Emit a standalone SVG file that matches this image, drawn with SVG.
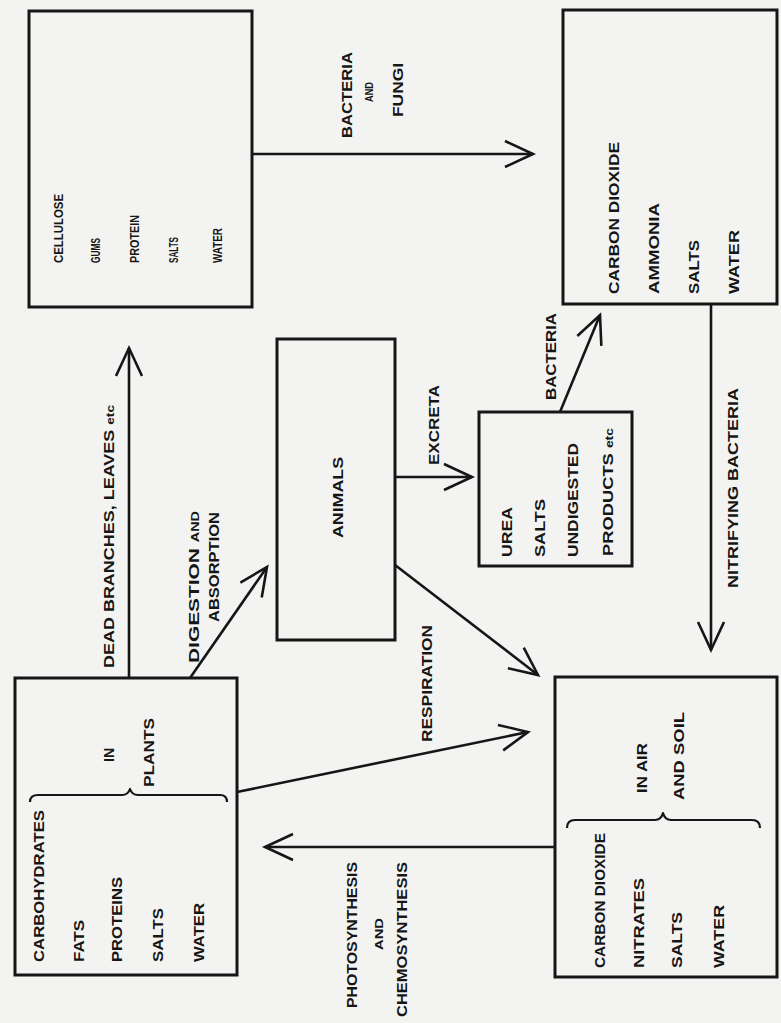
<svg xmlns="http://www.w3.org/2000/svg" width="781" height="1023" viewBox="0 0 781 1023">
<defs>
<style>
.bg{fill:#f3f3f1}
.box{fill:none;stroke:#161616;stroke-width:3}
.ln{fill:none;stroke:#161616;stroke-width:2.6;marker-end:url(#arr)}
.br{fill:none;stroke:#161616;stroke-width:2.2;stroke-linejoin:round}
text{font-family:"Liberation Sans","Arial",sans-serif;font-weight:bold;fill:#161616}
.s13{font-size:13.5px}
.s14{font-size:14.5px}
.s15{font-size:15.5px}
.s10{font-size:10px}
</style>
<marker id="arr" markerUnits="userSpaceOnUse" viewBox="-32 -16 34 32" markerWidth="34" markerHeight="32" refX="0" refY="0" orient="auto" overflow="visible">
<path d="M-28,-13 L0,0 L-28,13" fill="none" stroke="#161616" stroke-width="2.6" stroke-linejoin="miter"/>
</marker>
</defs>
<rect class="bg" x="0" y="0" width="781" height="1023"/>

<g id="connectors">
<path class="ln" d="M252,154 L533,154"/>
<path class="ln" d="M711,304 L711,650"/>
<path class="ln" d="M560,412 L600,315"/>
<path class="ln" d="M395,477 L472,477"/>
<path class="ln" d="M395,565 L538,675"/>
<path class="ln" d="M237,792 L528,732"/>
<path class="ln" d="M555,847 L265,847"/>
<path class="ln" d="M129,678 L129,348"/>
<path class="ln" d="M190,678 L267,567"/>
</g>

<g id="edge-labels">
<text class="s14" transform="translate(352,138) rotate(-90)" textLength="86" lengthAdjust="spacingAndGlyphs">BACTERIA</text>
<text class="s10" transform="translate(373,102) rotate(-90)" textLength="20" lengthAdjust="spacingAndGlyphs">AND</text>
<text class="s14" transform="translate(403,117) rotate(-90)" textLength="54" lengthAdjust="spacingAndGlyphs">FUNGI</text>
<text class="s14" transform="translate(439,465) rotate(-90)" textLength="80" lengthAdjust="spacingAndGlyphs">EXCRETA</text>
<text class="s14" transform="translate(556,400) rotate(-90)" textLength="87" lengthAdjust="spacingAndGlyphs">BACTERIA</text>
<text class="s14" transform="translate(738,588) rotate(-90)" textLength="200" lengthAdjust="spacingAndGlyphs">NITRIFYING  BACTERIA</text>
<text class="s14" transform="translate(114,668) rotate(-90)" textLength="263" lengthAdjust="spacingAndGlyphs">DEAD BRANCHES, LEAVES <tspan font-size="11">etc</tspan></text>
<text class="s14" transform="translate(199,663) rotate(-90)" textLength="152" lengthAdjust="spacingAndGlyphs">DIGESTION <tspan font-size="10">AND</tspan></text>
<text class="s14" transform="translate(219,622) rotate(-90)" textLength="110" lengthAdjust="spacingAndGlyphs">ABSORPTION</text>
<text class="s14" transform="translate(432,742) rotate(-90)" textLength="117" lengthAdjust="spacingAndGlyphs">RESPIRATION</text>
<text class="s14" transform="translate(357,1008) rotate(-90)" textLength="146" lengthAdjust="spacingAndGlyphs">PHOTOSYNTHESIS</text>
<text class="s10" transform="translate(383,950) rotate(-90)" textLength="32" lengthAdjust="spacingAndGlyphs">AND</text>
<text class="s14" transform="translate(407,1017) rotate(-90)" textLength="155" lengthAdjust="spacingAndGlyphs">CHEMOSYNTHESIS</text>
</g>

<g id="node-dead-matter">
<rect class="box" x="29" y="11" width="223" height="296"/>
<text class="s13" transform="translate(63,263) rotate(-90)" textLength="69" lengthAdjust="spacingAndGlyphs">CELLULOSE</text>
<text class="s13" transform="translate(100,263) rotate(-90)" textLength="25" lengthAdjust="spacingAndGlyphs">GUMS</text>
<text class="s13" transform="translate(139,263) rotate(-90)" textLength="48" lengthAdjust="spacingAndGlyphs">PROTEIN</text>
<text class="s13" transform="translate(178,263) rotate(-90)" textLength="26" lengthAdjust="spacingAndGlyphs">SALTS</text>
<text class="s13" transform="translate(222,263) rotate(-90)" textLength="35" lengthAdjust="spacingAndGlyphs">WATER</text>
</g>

<g id="node-decomposition">
<rect class="box" x="563" y="10" width="214" height="294"/>
<text class="s15" transform="translate(619,294) rotate(-90)" textLength="152" lengthAdjust="spacingAndGlyphs">CARBON DIOXIDE</text>
<text class="s15" transform="translate(659,294) rotate(-90)" textLength="91" lengthAdjust="spacingAndGlyphs">AMMONIA</text>
<text class="s15" transform="translate(699,294) rotate(-90)" textLength="54" lengthAdjust="spacingAndGlyphs">SALTS</text>
<text class="s15" transform="translate(739,294) rotate(-90)" textLength="64" lengthAdjust="spacingAndGlyphs">WATER</text>
</g>

<g id="node-animals">
<rect class="box" x="277" y="339" width="118" height="301"/>
<text class="s14" transform="translate(343,538) rotate(-90)" textLength="81" lengthAdjust="spacingAndGlyphs">ANIMALS</text>
</g>

<g id="node-excreta">
<rect class="box" x="479" y="412" width="153" height="154"/>
<text class="s14" transform="translate(512,557) rotate(-90)" textLength="50" lengthAdjust="spacingAndGlyphs">UREA</text>
<text class="s14" transform="translate(545,557) rotate(-90)" textLength="58" lengthAdjust="spacingAndGlyphs">SALTS</text>
<text class="s14" transform="translate(578,557) rotate(-90)" textLength="114" lengthAdjust="spacingAndGlyphs">UNDIGESTED</text>
<text class="s14" transform="translate(613,556) rotate(-90)" textLength="128" lengthAdjust="spacingAndGlyphs">PRODUCTS <tspan font-size="11">etc</tspan></text>
</g>

<g id="node-air-soil">
<rect class="box" x="555" y="677" width="222" height="300"/>
<text class="s15" transform="translate(647,793) rotate(-90)" textLength="50" lengthAdjust="spacingAndGlyphs">IN AIR</text>
<text class="s15" transform="translate(684,800) rotate(-90)" textLength="88" lengthAdjust="spacingAndGlyphs">AND SOIL</text>
<path class="br" d="M567,828 Q567,820 575,820 L655,820 Q661,820 663,813 Q665,820 671,820 L752,820 Q760,820 760,828"/>
<text class="s15" transform="translate(605,968) rotate(-90)" textLength="135" lengthAdjust="spacingAndGlyphs">CARBON DIOXIDE</text>
<text class="s15" transform="translate(644,968) rotate(-90)" textLength="90" lengthAdjust="spacingAndGlyphs">NITRATES</text>
<text class="s15" transform="translate(682,968) rotate(-90)" textLength="56" lengthAdjust="spacingAndGlyphs">SALTS</text>
<text class="s15" transform="translate(724,968) rotate(-90)" textLength="63" lengthAdjust="spacingAndGlyphs">WATER</text>
</g>

<g id="node-plants">
<rect class="box" x="15" y="678" width="222" height="297"/>
<text class="s15" transform="translate(114,762) rotate(-90)" textLength="14" lengthAdjust="spacingAndGlyphs">IN</text>
<text class="s15" transform="translate(154,787) rotate(-90)" textLength="69" lengthAdjust="spacingAndGlyphs">PLANTS</text>
<path class="br" d="M30,802 Q30,795 38,795 L122,795 Q128,795 130,789 Q132,795 138,795 L220,795 Q227,795 227,802"/>
<text class="s15" transform="translate(44,962) rotate(-90)" textLength="152" lengthAdjust="spacingAndGlyphs">CARBOHYDRATES</text>
<text class="s15" transform="translate(84,962) rotate(-90)" textLength="42" lengthAdjust="spacingAndGlyphs">FATS</text>
<text class="s15" transform="translate(122,962) rotate(-90)" textLength="85" lengthAdjust="spacingAndGlyphs">PROTEINS</text>
<text class="s15" transform="translate(163,962) rotate(-90)" textLength="54" lengthAdjust="spacingAndGlyphs">SALTS</text>
<text class="s15" transform="translate(204,962) rotate(-90)" textLength="59" lengthAdjust="spacingAndGlyphs">WATER</text>
</g>
</svg>
